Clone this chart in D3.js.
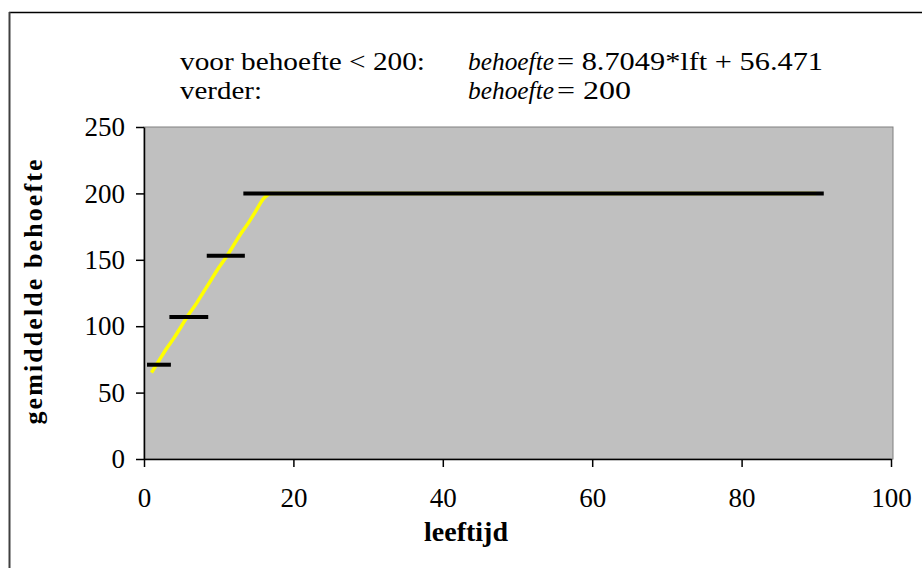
<!DOCTYPE html>
<html>
<head>
<meta charset="utf-8">
<script src="https://cdn.jsdelivr.net/npm/d3@7"></script>
<style>
  body { margin: 0; background: #fff; }
  svg text { font-family: 'Liberation Serif', 'Times New Roman', serif; }
</style>
</head>
<body>
<svg width="922" height="568"></svg>
<script>

// yellow line: behoefte per leeftijd
let ages = [1, 2, 3, 4, 5, 6, 7, 8, 9, 10, 11, 12, 13, 14, 15, 16, 17, 90];
let need = [65, 74, 83, 91, 100, 109, 117, 126, 135, 144, 152, 161, 170, 178, 187, 196, 200, 200];

// black bars: gemiddelde behoefte per leeftijdsgroep
let groupFrom = [0.4, 3.4, 8.4, 13.3];
let groupTo = [3.6, 8.6, 13.5, 91];
let groupMean = [71, 107, 153, 200];

let xTicks = [0, 20, 40, 60, 80, 100];
let yTicks = [0, 50, 100, 150, 200, 250];

// formula lines: [text, italic, x, baseline, width]
let formula = [
    ['voor behoefte < 200:', false, 180, 70, 245],
    ['behoefte', true, 468, 70, 86],
    ['= 8.7049*lft + 56.471', false, 557, 70, 266],
    ['verder:', false, 180, 99, 82],
    ['behoefte', true, 468, 99, 86],
    ['= 200', false, 557, 99, 74]
];

let svg = d3.select('svg');
let margin = { top: 127, right: 31, bottom: 109, left: 144 };
let width = +svg.attr('width');
let height = +svg.attr('height');

// outer chart border (runs off the right and bottom)
svg.append('line')
    .attr('x1', 9).attr('y1', 12.5).attr('x2', width).attr('y2', 12.5)
    .attr('stroke', '#000').attr('stroke-width', 1.5);
svg.append('line')
    .attr('x1', 9.5).attr('y1', 12).attr('x2', 9.5).attr('y2', height)
    .attr('stroke', '#404040').attr('stroke-width', 2);

let x = d3.scaleLinear()
    .domain([0, 100])
    .range([margin.left, width - margin.right]);

let y = d3.scaleLinear()
    .domain([0, 250])
    .range([height - margin.bottom, margin.top]);

svg.append('rect')
    .attr('x', x(0))
    .attr('y', y(250))
    .attr('width', x(100) - x(0) + 2)
    .attr('height', y(0) - y(250))
    .attr('fill', '#c0c0c0')
    .attr('stroke', '#808080')
    .attr('stroke-width', 1);

svg.selectAll('.formula')
    .data(formula)
    .enter().append('text')
    .attr('class', 'formula')
    .attr('x', d => d[2])
    .attr('y', d => d[3])
    .attr('font-size', '26px')
    .attr('font-style', d => d[1] ? 'italic' : 'normal')
    .attr('textLength', d => d[4])
    .attr('lengthAdjust', 'spacingAndGlyphs')
    .text(d => d[0]);

let line = d3.line()
    .x((d, i) => x(ages[i]))
    .y(d => y(d))
    .curve(d3.curveMonotoneX);

svg.append('path')
    .datum(need)
    .attr('d', line)
    .attr('fill', 'none')
    .attr('stroke', '#ffff00')
    .attr('stroke-width', 3.5);

svg.selectAll('.group')
    .data(groupMean)
    .enter().append('line')
    .attr('class', 'group')
    .attr('x1', (d, i) => x(groupFrom[i]))
    .attr('x2', (d, i) => x(groupTo[i]))
    .attr('y1', d => y(d))
    .attr('y2', d => y(d))
    .attr('stroke', '#000')
    .attr('stroke-width', 4);

let yAxis = svg.append('g')
    .attr('transform', 'translate(' + x(0) + ',0)')
    .call(d3.axisLeft(y).tickValues(yTicks).tickSize(8).tickPadding(11).tickSizeOuter(0));

let xAxis = svg.append('g')
    .attr('transform', 'translate(0,' + y(0) + ')')
    .call(d3.axisBottom(x).tickValues(xTicks).tickSize(8).tickPadding(21).tickSizeOuter(0));

[yAxis, xAxis].forEach(a => {
    a.selectAll('path, line').attr('stroke', '#000').attr('stroke-width', 1.5);
    a.selectAll('text').attr('font-size', '27px').attr('fill', '#000')
        .style('font-family', "'Liberation Serif', serif");
});

svg.append('text')
    .attr('text-anchor', 'middle')
    .attr('x', 466)
    .attr('y', 541)
    .attr('font-size', '28px')
    .attr('font-weight', 'bold')
    .text('leeftijd');

svg.append('text')
    .attr('text-anchor', 'middle')
    .attr('transform', 'translate(42,292)rotate(-90)')
    .attr('font-size', '26px')
    .attr('font-weight', 'bold')
    .attr('textLength', 265)
    .attr('lengthAdjust', 'spacing')
    .text('gemiddelde behoefte');

</script>
</body>
</html>
